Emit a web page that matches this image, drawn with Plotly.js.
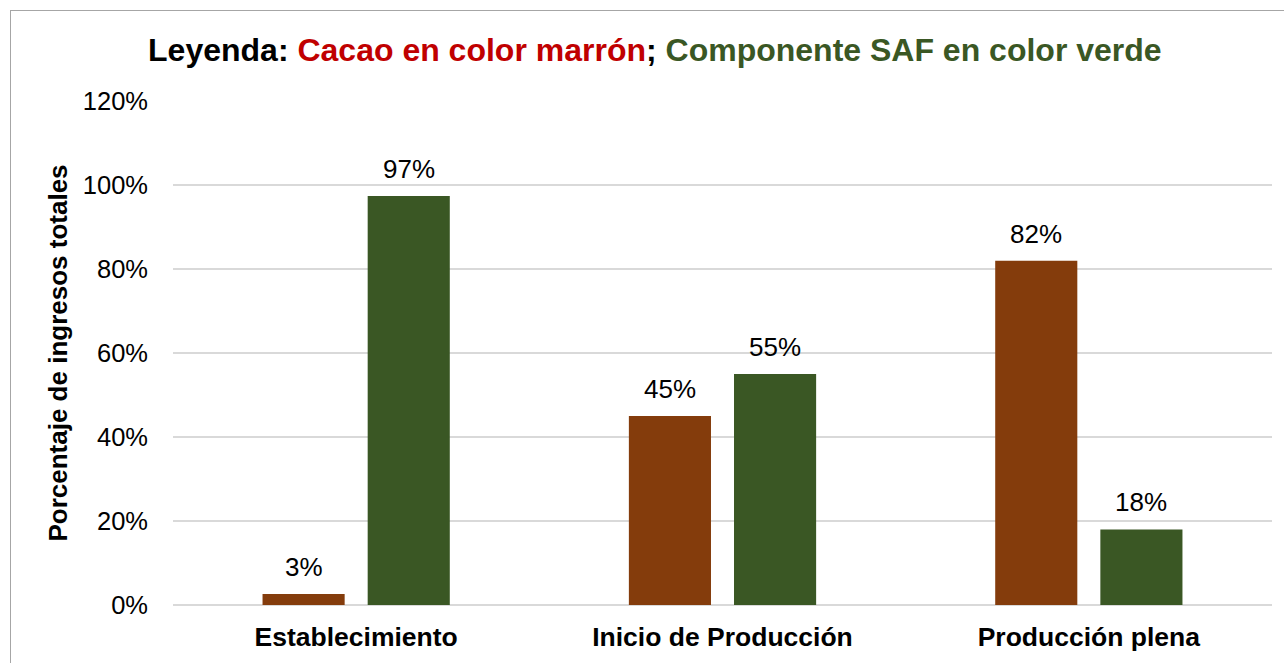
<!DOCTYPE html>
<html>
<head>
<meta charset="utf-8">
<script src="https://cdn.plot.ly/plotly-3.0.1.min.js"></script>
<style>
html,body{margin:0;padding:0;width:1284px;height:663px;overflow:hidden;background:#fff;}
#frame{position:absolute;left:10px;top:10px;width:1300px;height:700px;border:1px solid #a6a6a6;}
#chart{position:absolute;left:0;top:0;width:1284px;height:663px;}
</style>
</head>
<body>
<div id="frame"></div>
<div id="chart"></div>
<script>
const categories = ["Establecimiento", "Inicio de Producción", "Producción plena"];
const cacaoValues = [0.026, 0.45, 0.82];
const safValues = [0.974, 0.55, 0.18];
const yTickValues = [0, 0.2, 0.4, 0.6, 0.8, 1.0, 1.2];

const brown = "#843C0C";
const green = "#3A5724";
const font = "Arial, 'Liberation Sans', sans-serif";

const traces = [
  {
    type: "bar", name: "Cacao", x: categories, y: cacaoValues,
    marker: {color: brown, line: {width: 0}},
    hoverinfo: "skip"
  },
  {
    type: "bar", name: "Componente SAF", x: categories, y: safValues,
    marker: {color: green, line: {width: 0}},
    hoverinfo: "skip"
  }
];

const fmt = v => Math.round(v * 100) + "%";
const labelFont = {family: font, size: 26, color: "#000"};
const annotations = [];
categories.forEach((c, i) => {
  annotations.push({x: c, y: cacaoValues[i], xref: "x", yref: "y", text: fmt(cacaoValues[i]),
    showarrow: false, xanchor: "center", yanchor: "bottom", xshift: -52.5, yshift: 10, font: labelFont});
  annotations.push({x: c, y: safValues[i], xref: "x", yref: "y", text: fmt(safValues[i]),
    showarrow: false, xanchor: "center", yanchor: "bottom", xshift: 52.5, yshift: 10, font: labelFont});
});

const layout = {
  width: 1284, height: 663,
  paper_bgcolor: "rgba(0,0,0,0)", plot_bgcolor: "rgba(0,0,0,0)",
  margin: {l: 173, r: 12, t: 101, b: 58},
  showlegend: false,
  barmode: "group", bargap: 0.426, bargroupgap: 0.219,
  font: {family: font, color: "#000"},
  title: {
    text: "Leyenda: <span style='color:#C00000'>Cacao en color marrón</span>; <span style='color:" + green + "'>Componente SAF en color verde</span>",
    font: {family: font, size: 32, color: "#000", weight: "bold"},
    x: 0.51, xanchor: "center", y: 0.925, yanchor: "middle"
  },
  annotations: annotations,
  xaxis: {
    showgrid: false, zeroline: false, showline: false,
    tickfont: {family: font, size: 26.5, color: "#000", weight: "bold"},
    ticks: "", ticklabelstandoff: 13
  },
  yaxis: {
    range: [0, 1.2006], tickvals: yTickValues, tickformat: ".0%",
    showgrid: true, gridcolor: "#d9d9d9", gridwidth: 1.5,
    zeroline: true, zerolinecolor: "#d9d9d9", zerolinewidth: 1.5,
    showline: false, ticks: "", ticklabelstandoff: 24,
    tickfont: {family: font, size: 25.5, color: "#000"},
    title: {text: "Porcentaje de ingresos totales", font: {family: font, size: 26, color: "#000", weight: "bold"}, standoff: 7},
    automargin: false
  }
};

Plotly.newPlot("chart", traces, layout, {displayModeBar: false, staticPlot: true});
</script>
</body>
</html>
